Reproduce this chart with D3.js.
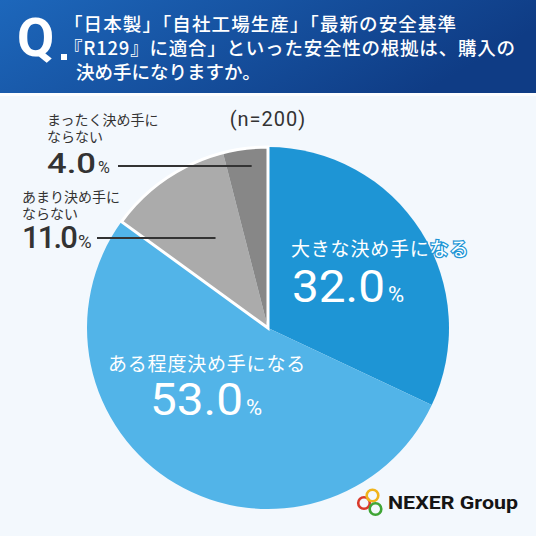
<!DOCTYPE html>
<html>
<head>
<meta charset="utf-8">
<script src="https://cdn.jsdelivr.net/npm/d3@7"></script>
<style>
  body { margin: 0; background: #f3f8fd; }
  svg { display: block; }
  .jp { font-family: "Noto Sans CJK JP", "Noto Sans", sans-serif; }
  .num { font-family: Roboto, "Noto Sans", sans-serif; }
</style>
</head>
<body>
<div id="chart"></div>
<script>
// answers, clockwise from 12 o'clock
var categories = ["大きな決め手になる", "ある程度決め手になる", "あまり決め手にならない", "まったく決め手にならない"];
var values = [32.0, 53.0, 11.0, 4.0];
var colors = ["#1e95d5", "#52b4e8", "#ababab", "#878787"];
var questionLines = ["「日本製」「自社工場生産」「最新の安全基準", "『R129』に適合」といった安全性の根拠は、購入の", "決め手になりますか。"];
var sampleNote = "(n=200)";

var W = 536, H = 536;
var cx = 268, cy = 328, radius = 181;

var svg = d3.select("#chart").append("svg")
  .attr("width", W).attr("height", H);

svg.append("rect").attr("width", W).attr("height", H).attr("fill", "#f3f8fd");

//Header band
var defs = svg.append("defs");
var grad = defs.append("linearGradient").attr("id", "hdr")
  .attr("x1", "0").attr("y1", "0").attr("x2", "1").attr("y2", "0.3");
grad.append("stop").attr("offset", "0").attr("stop-color", "#1d67bb");
grad.append("stop").attr("offset", "1").attr("stop-color", "#0f3c85");

svg.append("rect").attr("width", W).attr("height", 93).attr("fill", "url(#hdr)");
svg.append("rect").attr("y", 93).attr("width", W).attr("height", 3).attr("fill", "#ffffff").attr("opacity", 0.8);

svg.append("text").attr("class", "num")
  .attr("x", 17).attr("y", 56)
  .attr("fill", "#fff").attr("font-size", 54).attr("font-weight", 700)
  .text("Q");
svg.append("rect").attr("x", 61).attr("y", 54).attr("width", 6).attr("height", 6).attr("fill", "#fff");

// the first two lines are stretched to the widths they have in the picture
var questionLen = [392, 451, null];
svg.append("g").selectAll("text")
  .data(questionLines)
  .join("text")
  .attr("class", "jp")
  .attr("x", function(d, i) { return i < 2 ? 64 : 76; })
  .attr("y", function(d, i) { return 31 + i * 24; })
  .attr("fill", "#fff")
  .attr("font-size", 18.5)
  .attr("font-weight", 500)
  .each(function(d, i) {
    if (questionLen[i]) {
      d3.select(this).attr("textLength", questionLen[i]).attr("lengthAdjust", "spacing");
    }
  })
  .text(function(d) { return d; });

//Pie
var pie = d3.pie().sort(null).value(function(d) { return d; });
var arcs = pie(values);
var arc = d3.arc().innerRadius(0).outerRadius(radius);

var g = svg.append("g").attr("transform", "translate(" + cx + "," + cy + ")");

g.selectAll("path.slice")
  .data(arcs)
  .join("path")
  .attr("class", "slice")
  .attr("d", arc)
  .attr("fill", function(d, i) { return colors[i]; });

//white divider round the grey group
g.append("path")
  .attr("d", arc({ startAngle: arcs[2].startAngle, endAngle: arcs[3].endAngle }))
  .attr("fill", "none")
  .attr("stroke", "#fff")
  .attr("stroke-width", 3)
  .attr("stroke-linejoin", "miter");

svg.append("text").attr("class", "num")
  .attr("x", cx).attr("y", 126)
  .attr("text-anchor", "middle")
  .attr("fill", "#333").attr("font-size", 20)
  .attr("letter-spacing", 1)
  .text(sampleNote);

function pct(v) { return d3.format(".1f")(v); }

// fit a number tspan to a target width: squeeze with letter-spacing, widen with textLength
function fit(tspan, len) {
  var natural = tspan.node().getComputedTextLength();
  if (natural > len) {
    var n = tspan.text().length;
    tspan.attr("letter-spacing", (len - natural) / n);
  } else {
    tspan.attr("textLength", len).attr("lengthAdjust", "spacingAndGlyphs");
  }
}

//Labels inside blue slices
var inside = [
  { i: 0, name: categories[0], x: 291, y: 256, nx: 292, ny: 302, len: 93 },
  { i: 1, name: categories[1], x: 108, y: 371, nx: 150, ny: 415, len: 93 }
];

inside.forEach(function(o) {
  svg.append("text").attr("class", "jp")
    .attr("x", o.x).attr("y", o.y)
    .attr("fill", "#fff")
    .attr("stroke", colors[o.i]).attr("stroke-width", 2.5)
    .attr("paint-order", "stroke")
    .attr("font-size", 19)
    .attr("letter-spacing", 0.8)
    .text(o.name);
  var t = svg.append("text").attr("class", "num")
    .attr("x", o.nx).attr("y", o.ny)
    .attr("fill", "#fff");
  var n = t.append("tspan").attr("font-size", 44).attr("font-weight", 400)
    .text(pct(values[o.i]));
  fit(n, o.len);
  t.append("tspan").attr("x", o.nx + o.len + 3).attr("font-size", 22).text("%");
});

//Labels for the grey slices, with leader lines
var outside = [
  { i: 3, lines: ["まったく決め手に", "ならない"], x: 47, y: 125, ny: 173, fs: 27, len: 49, lineY: 166, lineX: 118 },
  { i: 2, lines: ["あまり決め手に", "ならない"], x: 22, y: 202, ny: 248, fs: 31, len: 54, lineY: 238, lineX: 97 }
];

outside.forEach(function(o) {
  // one text element per label: two name lines then the number
  var t = svg.append("text").attr("fill", "#333");
  o.lines.forEach(function(line, k) {
    t.append("tspan").attr("class", "jp")
      .attr("x", o.x).attr("y", o.y + k * 17)
      .attr("font-size", 14)
      .text(line);
  });
  var n = t.append("tspan").attr("class", "num")
    .attr("x", o.x).attr("y", o.ny)
    .attr("font-size", o.fs).attr("font-weight", 500)
    .text(pct(values[o.i]));
  fit(n, o.len);
  t.append("tspan").attr("class", "num")
    .attr("x", o.x + o.len + 2).attr("font-size", o.fs * 0.6).text("%");

  // end the leader inside the slice, 60% of the way through its angle
  var a = arcs[o.i].startAngle + 0.6 * (arcs[o.i].endAngle - arcs[o.i].startAngle);
  var r = (cy - o.lineY) / Math.cos(a);
  var ex = cx + r * Math.sin(a);
  svg.append("line")
    .attr("x1", o.lineX).attr("x2", ex)
    .attr("y1", o.lineY).attr("y2", o.lineY)
    .attr("stroke", "#333").attr("stroke-width", 2);
});

//Logo
var logo = svg.append("g");
[["#d93a2b", 364, 503], ["#f0b41c", 372.5, 495.5], ["#3fa535", 375.5, 509]].forEach(function(c) {
  logo.append("circle").attr("cx", c[1]).attr("cy", c[2]).attr("r", 5.8)
    .attr("fill", "none").attr("stroke", c[0]).attr("stroke-width", 2.6);
});
logo.append("text").attr("class", "num")
  .attr("x", 388).attr("y", 509)
  .attr("font-size", 17.5).attr("font-weight", 700).attr("fill", "#151515")
  .attr("textLength", 130).attr("lengthAdjust", "spacingAndGlyphs")
  .text("NEXER Group");
</script>
</body>
</html>
